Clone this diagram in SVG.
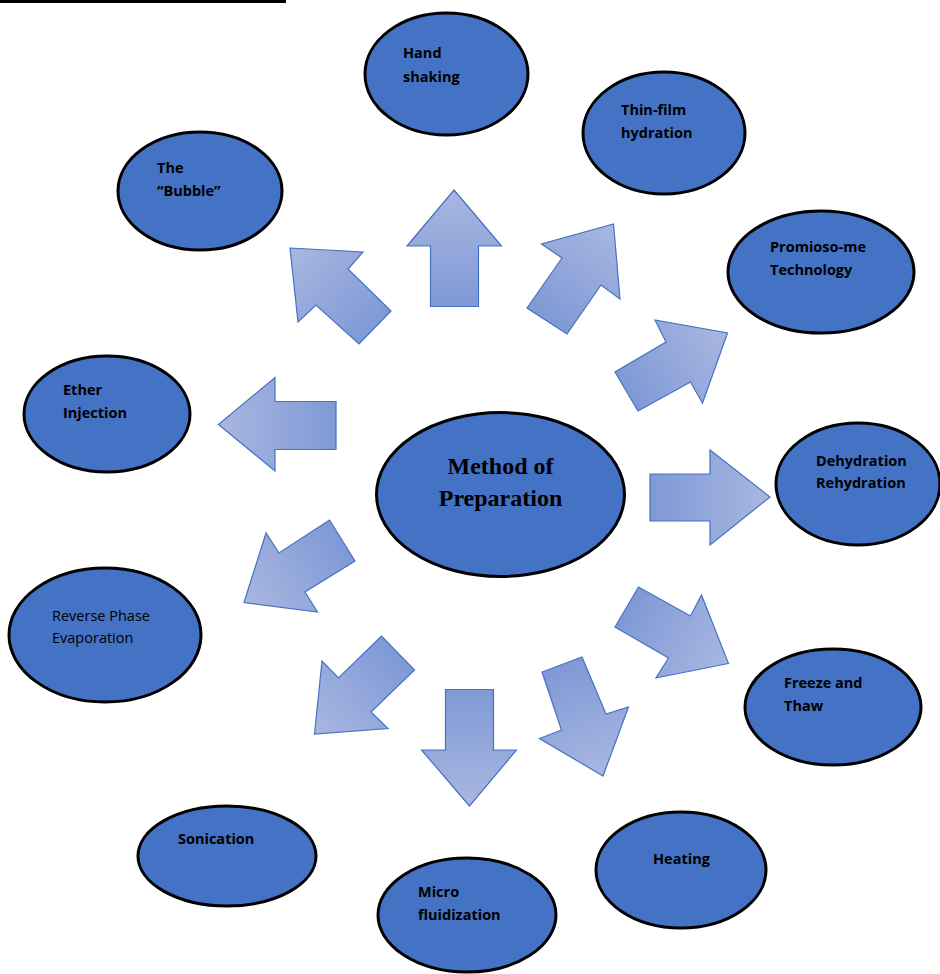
<svg xmlns="http://www.w3.org/2000/svg" width="940" height="974" viewBox="0 0 940 974">
<style>
.node{fill:#4472c4;stroke:#000;stroke-width:3}
.arrow{stroke:#4472c4;stroke-width:1.2;stroke-linejoin:miter}
.lbl{font-family:"Open Sans","Liberation Sans",sans-serif;font-weight:bold;font-size:14.5px;fill:#000}
.lblr{font-family:"Open Sans","Liberation Sans",sans-serif;font-weight:normal;font-size:14.5px;fill:#000}
.title{font-family:"Liberation Serif","Times New Roman",serif;font-weight:bold;font-size:24px;fill:#000}
</style>
<defs>
<linearGradient id="g1" gradientUnits="userSpaceOnUse" x1="454" y1="306" x2="454" y2="190"><stop offset="0" stop-color="#7f99d6"/><stop offset="1" stop-color="#a9b7e0"/></linearGradient>
<linearGradient id="g2" gradientUnits="userSpaceOnUse" x1="375" y1="328" x2="290" y2="248"><stop offset="0" stop-color="#7f99d6"/><stop offset="1" stop-color="#a9b7e0"/></linearGradient>
<linearGradient id="g3" gradientUnits="userSpaceOnUse" x1="547" y1="321" x2="613" y2="224"><stop offset="0" stop-color="#7f99d6"/><stop offset="1" stop-color="#a9b7e0"/></linearGradient>
<linearGradient id="g4" gradientUnits="userSpaceOnUse" x1="626" y1="391" x2="727" y2="333"><stop offset="0" stop-color="#7f99d6"/><stop offset="1" stop-color="#a9b7e0"/></linearGradient>
<linearGradient id="g5" gradientUnits="userSpaceOnUse" x1="650" y1="497" x2="770" y2="497"><stop offset="0" stop-color="#7f99d6"/><stop offset="1" stop-color="#a9b7e0"/></linearGradient>
<linearGradient id="g6" gradientUnits="userSpaceOnUse" x1="627" y1="607" x2="728" y2="663"><stop offset="0" stop-color="#7f99d6"/><stop offset="1" stop-color="#a9b7e0"/></linearGradient>
<linearGradient id="g7" gradientUnits="userSpaceOnUse" x1="562" y1="665" x2="603" y2="776"><stop offset="0" stop-color="#7f99d6"/><stop offset="1" stop-color="#a9b7e0"/></linearGradient>
<linearGradient id="g8" gradientUnits="userSpaceOnUse" x1="469" y1="689" x2="469" y2="806"><stop offset="0" stop-color="#7f99d6"/><stop offset="1" stop-color="#a9b7e0"/></linearGradient>
<linearGradient id="g9" gradientUnits="userSpaceOnUse" x1="398" y1="653" x2="314" y2="734"><stop offset="0" stop-color="#7f99d6"/><stop offset="1" stop-color="#a9b7e0"/></linearGradient>
<linearGradient id="g10" gradientUnits="userSpaceOnUse" x1="342" y1="540" x2="244" y2="602"><stop offset="0" stop-color="#7f99d6"/><stop offset="1" stop-color="#a9b7e0"/></linearGradient>
<linearGradient id="g11" gradientUnits="userSpaceOnUse" x1="336" y1="424" x2="218" y2="424"><stop offset="0" stop-color="#7f99d6"/><stop offset="1" stop-color="#a9b7e0"/></linearGradient>
</defs>
<rect x="0" y="0" width="286" height="3" fill="#000"/>
<g id="connectors">
<polygon class="arrow" fill="url(#g1)" points="454,190 501.5,246 478.5,246 478.5,306.5 430.5,306.5 430.5,246 407,246"/>
<polygon class="arrow" fill="url(#g2)" points="290,248 363,252 348,269 391,311 359,344 316,305 298,322"/>
<polygon class="arrow" fill="url(#g3)" points="613.5,224 620,299 601,285 567,334 527,308 562,258 541.5,244"/>
<polygon class="arrow" fill="url(#g4)" points="727.5,333 702.5,403 690.5,382 638,411 615,372 666,342 655,320"/>
<polygon class="arrow" fill="url(#g5)" points="770,497 710,545 710,521 650,521 650,474 710,474 710,450"/>
<polygon class="arrow" fill="url(#g6)" points="728.5,663.5 656,678 668.5,658 615,627 638.5,587 690.5,616 701.5,595"/>
<polygon class="arrow" fill="url(#g7)" points="603,776 539.5,738.5 561.5,730 542,672 582,657 606,714 628.5,707"/>
<polygon class="arrow" fill="url(#g8)" points="469.5,806 421.5,750 445.5,750 445.5,689.5 493.5,689.5 493.5,750 516.5,750"/>
<polygon class="arrow" fill="url(#g9)" points="314.5,734 322,661 338.5,678 381.5,636 414.5,670 371,712 388,728.5"/>
<polygon class="arrow" fill="url(#g10)" points="244,602.5 266,533 279,553 329.5,520 355,561 305,592 317.5,612"/>
<polygon class="arrow" fill="url(#g11)" points="218.5,424.5 275,377.5 275,401.5 336,401.5 336,449.5 275,449.5 275,471"/>
</g>
<g id="n-center"><ellipse class="node" cx="500.5" cy="494.5" rx="124" ry="82"/><text class="title" x="500.5" y="473.5" text-anchor="middle">Method of</text><text class="title" x="500.5" y="505.5" text-anchor="middle">Preparation</text></g>
<g id="n-hand"><ellipse class="node" cx="446.5" cy="74" rx="81.5" ry="61"/><text class="lbl" x="403" y="58">Hand</text><text class="lbl" x="403" y="82">shaking</text></g>
<g id="n-thinfilm"><ellipse class="node" cx="664" cy="133" rx="81" ry="61"/><text class="lbl" x="621" y="115">Thin-film</text><text class="lbl" x="621" y="138">hydration</text></g>
<g id="n-bubble"><ellipse class="node" cx="200" cy="191" rx="82" ry="59"/><text class="lbl" x="157" y="173">The</text><text class="lbl" x="157" y="196">“Bubble”</text></g>
<g id="n-proniosome"><ellipse class="node" cx="821" cy="272" rx="93" ry="61"/><text class="lbl" x="770" y="252">Promioso-me</text><text class="lbl" x="770" y="275">Technology</text></g>
<g id="n-ether"><ellipse class="node" cx="107" cy="414" rx="83" ry="58"/><text class="lbl" x="63" y="395">Ether</text><text class="lbl" x="63" y="418">Injection</text></g>
<g id="n-dehydration"><ellipse class="node" cx="858" cy="484" rx="82" ry="61"/><text class="lbl" x="816" y="466">Dehydration</text><text class="lbl" x="816" y="488">Rehydration</text></g>
<g id="n-reverse"><ellipse class="node" cx="105" cy="635" rx="96" ry="67"/><text class="lblr" x="52" y="621">Reverse Phase</text><text class="lblr" x="52" y="643">Evaporation</text></g>
<g id="n-freeze"><ellipse class="node" cx="833" cy="707" rx="88" ry="58"/><text class="lbl" x="784" y="688">Freeze and</text><text class="lbl" x="784" y="711">Thaw</text></g>
<g id="n-sonication"><ellipse class="node" cx="227" cy="856" rx="89" ry="50"/><text class="lbl" x="178" y="844">Sonication</text></g>
<g id="n-heating"><ellipse class="node" cx="681" cy="870" rx="85" ry="58"/><text class="lbl" x="653" y="864">Heating</text></g>
<g id="n-micro"><ellipse class="node" cx="467" cy="915" rx="89" ry="57"/><text class="lbl" x="418" y="897">Micro</text><text class="lbl" x="418" y="920">fluidization</text></g>
</svg>
